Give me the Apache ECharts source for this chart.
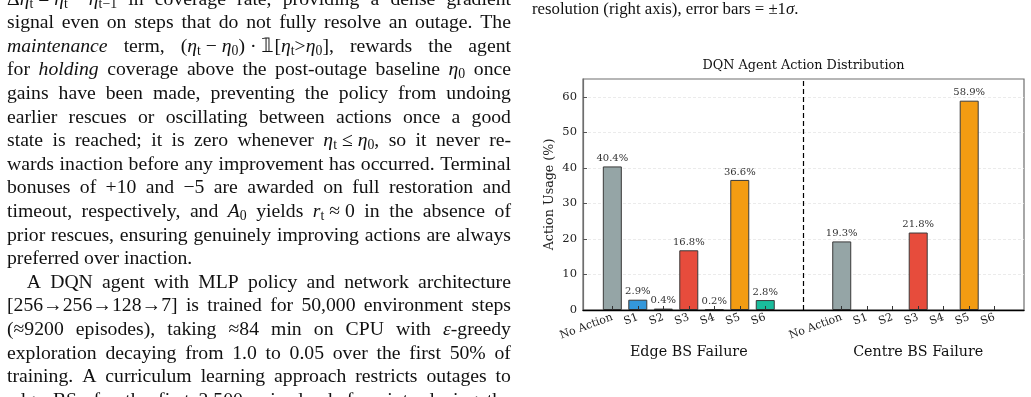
<!DOCTYPE html>
<html>
<head>
<meta charset="utf-8">
<script src="https://cdn.jsdelivr.net/npm/echarts@6/dist/echarts.min.js"></script>
<style>
  html, body { margin: 0; padding: 0; background: #fff; }
  body { width: 1031px; height: 397px; overflow: hidden; position: relative; }
  #chart { position: absolute; left: 0; top: 0; width: 1031px; height: 397px; }
  .ln { position: absolute; left: 7px; width: 504px; height: 24px; display: flex; justify-content: space-between; align-items: baseline;
        font-family: 'Liberation Serif', 'Times New Roman', serif; font-size: 19.7px; line-height: 1; color: #111; white-space: nowrap; }
  .ln.left { display: block; }
  .ln.ind { left: 26.7px; width: 484.3px; }
  .ln sub { font-size: 0.7em; vertical-align: -0.22em; line-height: 0; }
  .cap { position: absolute; left: 532px; font-family: 'Liberation Serif', 'Times New Roman', serif; font-size: 16.8px; line-height: 1; color: #111; white-space: nowrap; }
</style>
</head>
<body>
<div id="chart"></div>
<div id="text"></div>
<script>
// ---- data ----
const categories = ['No Action', 'S1', 'S2', 'S3', 'S4', 'S5', 'S6'];
const groupNames = ['Edge BS Failure', 'Centre BS Failure'];
const edgeValues = [40.4, 2.9, 0.4, 16.8, 0.2, 36.6, 2.8];
const centreValues = [19.3, 0, 0, 21.8, 0, 58.9, 0];
const yTicks = [0, 10, 20, 30, 40, 50, 60];
const chartTitle = 'DQN Agent Action Distribution';
const yName = 'Action Usage (%)';

// ---- styles ----
const barColors = ['#95a5a6', '#3498db', '#27ae60', '#e74c3c', '#9b59b6', '#f39c12', '#1abc9c'];
const groupStart = [0, 9];
const serif = 'DejaVu Serif';

// ---- page text (left column) ----
const E = '<i>η</i>';
const bodyLines = [
  ['', 'Δ' + E + '<sub>t</sub>\u2005=\u2005' + E + '<sub>t</sub>\u2005−\u2005' + E + '<sub>t−1</sub> in coverage rate, providing a dense gradient'],
  ['', 'signal even on steps that do not fully resolve an outage. The'],
  ['', '<i>maintenance</i> term, (' + E + '<sub>t</sub>\u2005−\u2005' + E + '<sub>0</sub>)\u2005·\u2005𝟙[' + E + '<sub>t</sub>&gt;' + E + '<sub>0</sub>], rewards the agent'],
  ['', 'for <i>holding</i> coverage above the post-outage baseline ' + E + '<sub>0</sub> once'],
  ['', 'gains have been made, preventing the policy from undoing'],
  ['', 'earlier rescues or oscillating between actions once a good'],
  ['', 'state is reached; it is zero whenever ' + E + '<sub>t</sub>\u2005≤\u2005' + E + '<sub>0</sub>, so it never re-'],
  ['', 'wards inaction before any improvement has occurred. Terminal'],
  ['', 'bonuses of +10 and −5 are awarded on full restoration and'],
  ['', 'timeout, respectively, and <i>A</i><sub>0</sub> yields <i>r</i><sub>t</sub>\u2005≈\u20050 in the absence of'],
  ['', 'prior rescues, ensuring genuinely improving actions are always'],
  ['left', 'preferred over inaction.'],
  ['ind', 'A DQN agent with MLP policy and network architecture'],
  ['', '[256→256→128→7] is trained for 50,000 environment steps'],
  ['', '(≈9200 episodes), taking ≈84 min on CPU with <i>ε</i>-greedy'],
  ['', 'exploration decaying from 1.0 to 0.05 over the first 50% of'],
  ['', 'training. A curriculum learning approach restricts outages to'],
  ['', 'edge BSs for the first 2,500 episodes before introducing the']
];
const captionLine = 'resolution (right axis), error bars\u2005=\u2005±1<i>σ</i>.';

(function buildText() {
  const host = document.getElementById('text');
  const base0 = 5, step = 23.6, asc = 16.5;
  bodyLines.forEach((l, i) => {
    const d = document.createElement('div');
    d.className = 'ln' + (l[0] ? ' ' + l[0] : '');
    d.style.top = (base0 + step * i - asc) + 'px';
    if (l[0] === 'left') d.innerHTML = l[1];
    else d.innerHTML = l[1].split(' ').map(w => '<span>' + w + '</span>').join('');
    host.appendChild(d);
  });
  const c = document.createElement('div');
  c.className = 'cap';
  c.style.top = (15 - 14.1) + 'px';
  c.innerHTML = captionLine;
  host.appendChild(c);
})();

// ---- chart ----
const chart = echarts.init(document.getElementById('chart'), null, { renderer: 'canvas' });
const barData = [];
const tickPositions = [];
[edgeValues, centreValues].forEach((vals, g) => {
  vals.forEach((v, i) => {
    const x = groupStart[g] + i;
    tickPositions.push(x);
    if (v > 0) barData.push({ value: [x, v], itemStyle: { color: barColors[i] } });
  });
});
function labelFor(x) {
  for (let g = 0; g < groupStart.length; g++) {
    const i = x - groupStart[g];
    if (i >= 0 && i < categories.length) return categories[i];
  }
  return '';
}

chart.setOption({
  animation: false,
  grid: { left: 583, right: 7, top: 79, bottom: 87, show: true, borderColor: '#6e6e6e', borderWidth: 1.2, backgroundColor: 'transparent' },
  xAxis: {
    type: 'value', min: -1.15, max: 16.15, z: 5,
    axisLine: { show: true, onZero: false, lineStyle: { color: '#000', width: 1.4 } },
    axisTick: { show: true, inside: true, length: 4, customValues: tickPositions, lineStyle: { color: '#333', width: 1 } },
    axisLabel: { customValues: tickPositions, rotate: 20, margin: 7, fontFamily: serif, fontSize: 11, color: '#222', formatter: v => labelFor(Math.round(v)) },
    splitLine: { show: false }
  },
  yAxis: {
    type: 'value', min: 0, max: 65, interval: 10,
    name: yName, nameLocation: 'middle', nameGap: 27,
    nameTextStyle: { fontFamily: serif, fontSize: 12.7, color: '#222' },
    axisLine: { show: true, onZero: false, lineStyle: { color: '#6e6e6e', width: 1.2 } },
    axisTick: { show: true, inside: true, length: 4, customValues: yTicks, lineStyle: { color: '#555' } },
    axisLabel: { customValues: yTicks, margin: 6, fontFamily: serif, fontSize: 11.5, color: '#222' },
    splitLine: { show: true, lineStyle: { color: '#e6e6e6', type: [3, 2], width: 0.8 } }
  },
  series: [{
    type: 'bar',
    data: barData,
    barWidth: 19,
    itemStyle: { borderColor: '#3a3a3a', borderWidth: 1 },
    label: { show: true, position: 'top', distance: 3, fontFamily: serif, fontSize: 10, color: '#333', formatter: p => p.value[1].toFixed(1) + '%' },
    markLine: {
      silent: true, symbol: 'none', animation: false,
      label: { show: false },
      lineStyle: { color: '#000', type: [5, 3], width: 1.2 },
      data: [{ xAxis: 7.5 }]
    }
  }]
});

// titles placed via the axis scales
const mid = (-1.15 + 16.15) / 2;
const topPt = chart.convertToPixel({ gridIndex: 0 }, [mid, 65]);
const g1 = chart.convertToPixel({ gridIndex: 0 }, [groupStart[0] + 3, 0]);
const g2 = chart.convertToPixel({ gridIndex: 0 }, [groupStart[1] + 3, 0]);
chart.setOption({
  graphic: [
    { type: 'text', x: topPt[0], y: topPt[1] - 13.5, style: { text: chartTitle, fontFamily: serif, fontSize: 12.8, fill: '#111', align: 'center', verticalAlign: 'middle' } },
    { type: 'text', x: g1[0], y: g1[1] + 42, style: { text: groupNames[0], fontFamily: serif, fontSize: 14.3, fill: '#111', align: 'center', verticalAlign: 'middle' } },
    { type: 'text', x: g2[0], y: g2[1] + 42, style: { text: groupNames[1], fontFamily: serif, fontSize: 14.3, fill: '#111', align: 'center', verticalAlign: 'middle' } }
  ]
});
</script>
</body>
</html>
